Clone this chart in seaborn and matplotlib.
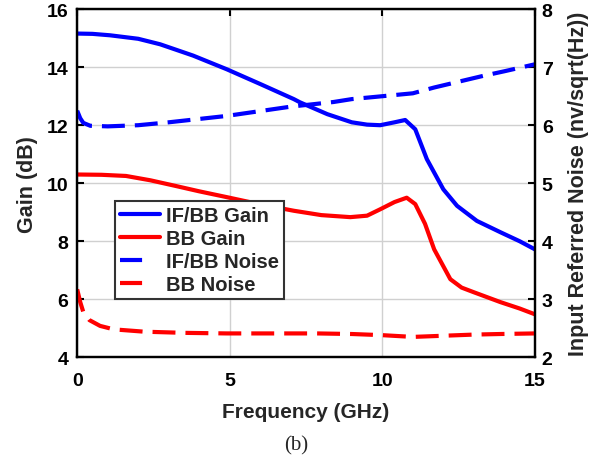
import numpy as np
import pandas as pd
import matplotlib
matplotlib.use("Agg")
import matplotlib.pyplot as plt
from matplotlib.lines import Line2D
import seaborn as sns

# Data
freq_ifbb_gain = [0, 0.5, 1.08, 2.0, 2.72, 3.8, 4.9, 6.0, 7.1, 7.3, 8.2, 9.0, 9.5, 9.93, 10.4, 10.75, 11.08, 11.46, 12.0, 12.45, 13.1, 13.87, 14.5, 15.0]
ifbb_gain = [15.16, 15.15, 15.1, 14.98, 14.79, 14.4, 13.93, 13.42, 12.9, 12.79, 12.38, 12.1, 12.02, 12.0, 12.1, 12.18, 11.86, 10.83, 9.79, 9.22, 8.70, 8.31, 8.0, 7.72]

freq_bb_gain = [0, 0.8, 1.6, 2.4, 3.25, 4.0, 4.9, 6.0, 7.1, 8.0, 8.95, 9.5, 9.93, 10.4, 10.8, 11.08, 11.4, 11.7, 12.23, 12.6, 13.0, 13.87, 14.5, 15.0]
bb_gain = [10.3, 10.29, 10.25, 10.1, 9.9, 9.72, 9.52, 9.27, 9.05, 8.9, 8.83, 8.88, 9.1, 9.35, 9.5, 9.28, 8.6, 7.72, 6.69, 6.4, 6.24, 5.9, 5.68, 5.48]

freq_ifbb_noise = [0, 0.1, 0.2, 0.43, 1.0, 2.0, 3.0, 4.9, 7.0, 8.4, 9.0, 10.0, 11.0, 11.7, 12.5, 13.3, 14.0, 14.75, 15.0]
ifbb_noise = [6.25, 6.12, 6.04, 5.99, 5.98, 6.0, 6.05, 6.16, 6.32, 6.4, 6.45, 6.5, 6.55, 6.65, 6.75, 6.85, 6.93, 7.02, 7.05]

freq_bb_noise = [0, 0.1, 0.2, 0.4, 0.75, 1.2, 2.2, 3.5, 4.9, 7.86, 9.0, 10.0, 11.0, 12.0, 13.0, 13.87, 15.0]
bb_noise = [3.17, 2.95, 2.78, 2.64, 2.54, 2.48, 2.44, 2.42, 2.41, 2.41, 2.40, 2.38, 2.35, 2.37, 2.39, 2.40, 2.41]

series_labels = ["IF/BB Gain", "BB Gain", "IF/BB Noise", "BB Noise"]
xticks = [0, 5, 10, 15]
gain_ticks = [4, 6, 8, 10, 12, 14, 16]
noise_ticks = [2, 3, 4, 5, 6, 7, 8]

sns.set_theme(style="white")
plt.rcParams['font.family'] = ['Liberation Sans', 'DejaVu Sans']
plt.rcParams['font.weight'] = 'bold'
plt.rcParams['axes.labelweight'] = 'bold'

fig = plt.figure(figsize=(6.03, 4.64), dpi=100)
ax = fig.add_axes([0.128, 0.228, 0.759, 0.75])
ax2 = ax.twinx()

lw = 3.0
dash = (5.5, 2.4)
BLUE = "#0000ff"
RED = "#ff0000"

df1 = pd.DataFrame({"f": freq_ifbb_gain, "v": ifbb_gain})
df2 = pd.DataFrame({"f": freq_bb_gain, "v": bb_gain})
df3 = pd.DataFrame({"f": freq_ifbb_noise, "v": ifbb_noise})
df4 = pd.DataFrame({"f": freq_bb_noise, "v": bb_noise})

sns.lineplot(data=df1, x="f", y="v", ax=ax, color=BLUE, lw=lw, legend=False)
sns.lineplot(data=df2, x="f", y="v", ax=ax, color=RED, lw=lw, legend=False)
sns.lineplot(data=df3, x="f", y="v", ax=ax2, color=BLUE, lw=lw, legend=False)
sns.lineplot(data=df4, x="f", y="v", ax=ax2, color=RED, lw=lw, legend=False)
for l in ax2.get_lines():
    l.set_dashes(dash)

ax.set_xlim(0, 15)
ax.set_ylim(4, 16)
ax2.set_ylim(2, 8)
ax.set_xticks(xticks)
ax.set_yticks(gain_ticks)
ax2.set_yticks(noise_ticks)

ax.grid(True, color="#d0d0d0", lw=1.0)
ax2.grid(False)
ax.set_axisbelow(True)

for a in (ax, ax2):
    for s in a.spines.values():
        s.set_color("black")
        s.set_linewidth(1.6)

ax.tick_params(axis="x", direction="in", length=5, width=1.5, labelsize=14, colors="black", top=True, pad=10.5)
ax.tick_params(axis="y", direction="in", length=5, width=1.5, labelsize=14, colors="black", right=False, pad=6.5)
ax2.tick_params(axis="y", direction="in", length=5, width=1.5, labelsize=14, colors="black", pad=5)
for lab in ax.get_xticklabels() + ax.get_yticklabels() + ax2.get_yticklabels():
    lab.set_fontweight("bold")

ax.set_xlabel("Frequency (GHz)", fontsize=15, fontweight="bold", va="center")
ax.xaxis.set_label_coords(0.5, -0.155)
ax.set_ylabel("Gain (dB)", fontsize=15.5, fontweight="bold", va="center", ha="center")
ax.yaxis.set_label_coords(-0.109, 0.5)
ax2.set_ylabel("Input Referred Noise (nv/sqrt(Hz))", fontsize=15.5, fontweight="bold", va="center", ha="center")
ax2.yaxis.set_label_coords(1.096, 0.5)

proxy_handles = [
    Line2D([], [], color=BLUE, lw=lw),
    Line2D([], [], color=RED, lw=lw),
    Line2D([], [], color=BLUE, lw=lw, dashes=(5.3, 12)),
    Line2D([], [], color=RED, lw=lw, dashes=(5.3, 12)),
]
leg = ax2.legend(proxy_handles, series_labels, loc="upper left", bbox_to_anchor=(0.083, 0.448),
                 fontsize=14.5, frameon=True, fancybox=False, borderpad=0.25,
                 handlelength=2.0, handletextpad=0.25, labelspacing=0.2, borderaxespad=0)
leg.get_frame().set_edgecolor("#333333")
leg.get_frame().set_linewidth(1.5)
leg.get_frame().set_facecolor("white")
leg.get_frame().set_alpha(1.0)
for t in leg.get_texts():
    t.set_fontweight("bold")

fig.text(0.491, 0.039, "(b)", ha="center", va="center", fontsize=15,
         family=["Liberation Serif", "DejaVu Serif"], fontweight="normal")

fig.savefig("out.png", dpi=100)
